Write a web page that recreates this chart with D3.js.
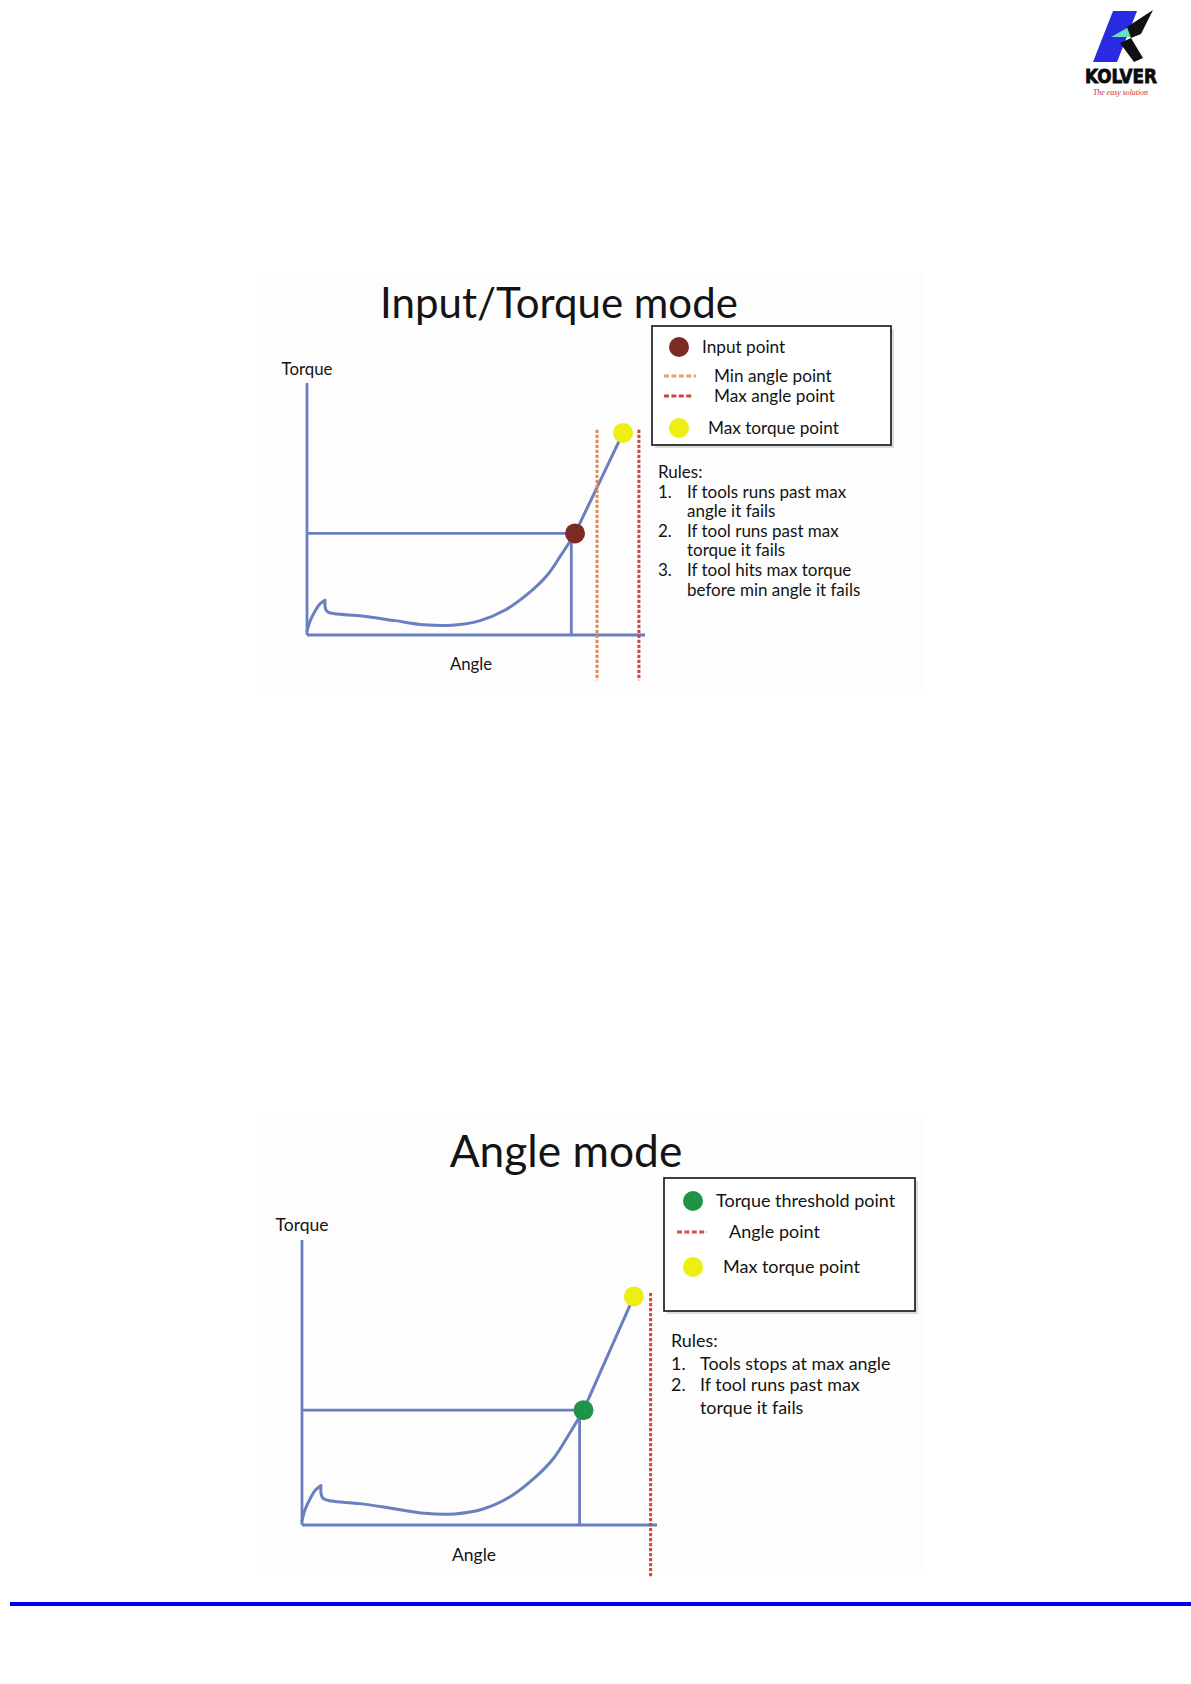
<!DOCTYPE html>
<html>
<head>
<meta charset="utf-8">
<script src="https://cdn.jsdelivr.net/npm/d3@7/dist/d3.min.js"></script>
<style>
  body { margin: 0; background: #fff; }
  text { font-family: Lato, "Open Sans", sans-serif; fill: #141414; }
</style>
</head>
<body>
<div id="container"></div>
<script>
// torque curve shared by both diagrams (angle and torque in % of axis)
const curveAngle  = [0, 0.9, 2.4, 3.8, 5.3, 5.5, 6.2, 8.3, 16.3, 26, 34.5, 43, 51, 58.5, 65.5, 71, 75.1, 79.3];
const curveTorque = [1.5, 5.5, 9.5, 12.3, 13.8, 10.3, 9.1, 8.4, 7.5, 5.7, 4.1, 3.9, 5.6, 9.8, 16.5, 23.6, 31.6, 40.3];
const maxTorquePoint = [93.5, 80.2];
const setPoint = [79.3, 40.3];   // input point / torque threshold point
const dropAngle = 78.2;
const minAngle = 85.8;
const maxAngle = 98.2;
const dashTorque = [81.4, -18];

const topLegend = ["Input point", "Min angle point", "Max angle point", "Max torque point"];
const topRules = [
  ["1.", "If tools runs past max"], ["", "angle it fails"],
  ["2.", "If tool runs past max"], ["", "torque it fails"],
  ["3.", "If tool hits max torque"], ["", "before min angle it fails"]
];
const bottomLegend = ["Torque threshold point", "Angle point", "Max torque point"];
const bottomRules = [
  ["1.", "Tools stops at max angle"], ["2.", "If tool runs past max"], ["", "torque it fails"]
];

const W = 1191, H = 1684;
const lineBlue = "#6a7fbd";
const brown = "#7d2b25", yellow = "#eeee12", green = "#1f9447";
const orange = "#e38c4c", red = "#d5453d";

const svg = d3.select("#container").append("svg")
  .attr("width", W).attr("height", H);
svg.append("rect").attr("width", W).attr("height", H).attr("fill", "#fff");

function drawChart(c) {
  const g = svg.append("g");
  g.append("rect").attr("x", c.slide[0]).attr("y", c.slide[1])
    .attr("width", c.slide[2]).attr("height", c.slide[3]).attr("fill", "#fdfdfd");

  const x = d3.scaleLinear().domain([0, 100]).range(c.xRange);
  const y = d3.scaleLinear().domain([0, 100]).range(c.yRange);

  g.append("text").attr("x", c.title[1]).attr("y", c.title[2])
    .attr("text-anchor", "middle").attr("font-size", c.title[3]).text(c.title[0]);

  // axes
  g.append("line").attr("x1", x(0)).attr("x2", x(0)).attr("y1", y(0)).attr("y2", y(100))
    .attr("stroke", lineBlue).attr("stroke-width", 2.8);
  g.append("line").attr("x1", x(0)).attr("x2", x(100)).attr("y1", y(0)).attr("y2", y(0))
    .attr("stroke", lineBlue).attr("stroke-width", 2.8);
  g.append("text").attr("x", x(0)).attr("y", c.torqueY).attr("text-anchor", "middle")
    .attr("font-size", c.axisSize).text("Torque");
  g.append("text").attr("x", c.angleLab[0]).attr("y", c.angleLab[1]).attr("text-anchor", "middle")
    .attr("font-size", c.axisSize).text("Angle");

  // set point guides
  g.append("line").attr("x1", x(0)).attr("x2", x(setPoint[0])).attr("y1", y(setPoint[1])).attr("y2", y(setPoint[1]))
    .attr("stroke", lineBlue).attr("stroke-width", 2.8);
  g.append("line").attr("x1", x(dropAngle)).attr("x2", x(dropAngle)).attr("y1", y(setPoint[1])).attr("y2", y(0))
    .attr("stroke", lineBlue).attr("stroke-width", 2.8);

  // curve: spike, smooth part, then straight to max torque
  const pts = curveAngle.map((a, i) => [a, curveTorque[i]]);
  const line = d3.line().x(d => x(d[0])).y(d => y(d[1]));
  g.append("path").datum(pts.slice(0, 5)).attr("d", line.curve(d3.curveCatmullRom)).attr("fill", "none")
    .attr("stroke", lineBlue).attr("stroke-width", 3).attr("stroke-linecap", "round");
  g.append("path").datum(pts.slice(4)).attr("d", line.curve(d3.curveCatmullRom)).attr("fill", "none")
    .attr("stroke", lineBlue).attr("stroke-width", 3).attr("stroke-linecap", "round");
  g.append("path").datum([setPoint, maxTorquePoint]).attr("d", line.curve(d3.curveLinear)).attr("fill", "none")
    .attr("stroke", lineBlue).attr("stroke-width", 3);

  // dashed angle limits
  c.dashes.forEach(dd => {
    g.append("line").attr("x1", x(dd[0])).attr("x2", x(dd[0]))
      .attr("y1", y(dashTorque[0])).attr("y2", y(dashTorque[1]))
      .attr("stroke", dd[1]).attr("stroke-width", 3).attr("stroke-dasharray", "3.2,1.8");
  });

  // points
  g.append("circle").attr("cx", x(setPoint[0])).attr("cy", y(setPoint[1])).attr("r", 10)
    .attr("fill", c.pointColor);
  g.append("circle").attr("cx", x(maxTorquePoint[0])).attr("cy", y(maxTorquePoint[1])).attr("r", 10)
    .attr("fill", yellow);

  // legend
  const b = c.box;
  g.append("rect").attr("x", b[0] + 3).attr("y", b[1] + 3).attr("width", b[2]).attr("height", b[3])
    .attr("fill", "#dcdcdc");
  g.append("rect").attr("x", b[0]).attr("y", b[1]).attr("width", b[2]).attr("height", b[3])
    .attr("fill", "#fff").attr("stroke", "#111").attr("stroke-width", 1.6);
  c.legend.forEach(it => {
    if (it.type === "dot") {
      g.append("circle").attr("cx", it.mx).attr("cy", it.y).attr("r", 10).attr("fill", it.color);
    } else {
      g.append("line").attr("x1", it.mx).attr("x2", it.mx2).attr("y1", it.y).attr("y2", it.y)
        .attr("stroke", it.color).attr("stroke-width", 3).attr("stroke-dasharray", "5,2.4");
    }
    g.append("text").attr("x", it.tx).attr("y", it.y + 6).attr("font-size", c.legendSize).text(it.label);
  });

  // rules
  g.append("text").attr("x", c.rulesX[0]).attr("y", c.rulesY[0]).attr("font-size", c.rulesSize).text("Rules:");
  c.rules.forEach((r, i) => {
    const yy = c.rulesY[i + 1];
    if (r[0]) g.append("text").attr("x", c.rulesX[0]).attr("y", yy).attr("font-size", c.rulesSize).text(r[0]);
    g.append("text").attr("x", c.rulesX[1]).attr("y", yy).attr("font-size", c.rulesSize).text(r[1]);
  });
}

drawChart({
  slide: [256, 272, 669, 418],
  xRange: [307, 645], yRange: [635, 383],
  title: ["Input/Torque mode", 559, 318, 42],
  torqueY: 375, angleLab: [471, 670], axisSize: 16.8,
  dashes: [[minAngle, orange], [maxAngle, red]],
  pointColor: brown,
  box: [652, 326, 239, 119], legendSize: 17.2,
  legend: [
    { type: "dot", color: brown, mx: 679, y: 347, tx: 702, label: topLegend[0] },
    { type: "dash", color: "#e5a078", mx: 664, mx2: 696, y: 376, tx: 714, label: topLegend[1] },
    { type: "dash", color: "#c9463f", mx: 664, mx2: 693, y: 396, tx: 714, label: topLegend[2] },
    { type: "dot", color: yellow, mx: 679, y: 428, tx: 708, label: topLegend[3] }
  ],
  rules: topRules, rulesSize: 17,
  rulesX: [658, 687], rulesY: [478, 498, 517, 537, 556, 576, 596]
});

drawChart({
  slide: [258, 1118, 667, 457],
  xRange: [302, 657], yRange: [1525, 1240],
  title: ["Angle mode", 566, 1167, 44.3],
  torqueY: 1231, angleLab: [474, 1561], axisSize: 17.5,
  dashes: [[maxAngle, red]],
  pointColor: green,
  box: [664, 1178, 251, 133], legendSize: 18,
  legend: [
    { type: "dot", color: green, mx: 693, y: 1201, tx: 716, label: bottomLegend[0] },
    { type: "dash", color: "#d4504a", mx: 677, mx2: 707, y: 1232, tx: 729, label: bottomLegend[1] },
    { type: "dot", color: yellow, mx: 693, y: 1267, tx: 723, label: bottomLegend[2] }
  ],
  rules: bottomRules, rulesSize: 17.9,
  rulesX: [671, 700], rulesY: [1347, 1370, 1391, 1414]
});

// footer rule
svg.append("rect").attr("x", 10).attr("y", 1602).attr("width", W - 10).attr("height", 4).attr("fill", "#0000ee");

// logo
const logo = svg.append("g");
logo.append("polygon").attr("points", "1113,11 1137,11 1117,62 1093,62").attr("fill", "#2a2ae0");
logo.append("polygon").attr("points", "1111,37 1143,19 1131,37").attr("fill", "#66e0c0");
logo.append("polygon").attr("points", "1127,27 1153,10 1141,34 1131,38").attr("fill", "#111");
logo.append("polygon").attr("points", "1120,43 1131,38 1143,58 1134,62").attr("fill", "#111");
logo.append("text").attr("x", 1085).attr("y", 83)
  .style("font-family", "'DejaVu Sans Condensed', 'DejaVu Sans', sans-serif").style("font-weight", "bold")
  .attr("font-size", 20).attr("textLength", 72).attr("lengthAdjust", "spacingAndGlyphs")
  .style("fill", "#0c0c0c").style("stroke", "#0c0c0c").style("stroke-width", 0.8).text("KOLVER");
logo.append("text").attr("x", 1093).attr("y", 95)
  .style("font-family", "'Liberation Serif', serif").style("font-style", "italic")
  .attr("font-size", 9).attr("textLength", 55).attr("lengthAdjust", "spacingAndGlyphs")
  .style("fill", "#c8283a").text("The easy solution");
</script>
</body>
</html>
